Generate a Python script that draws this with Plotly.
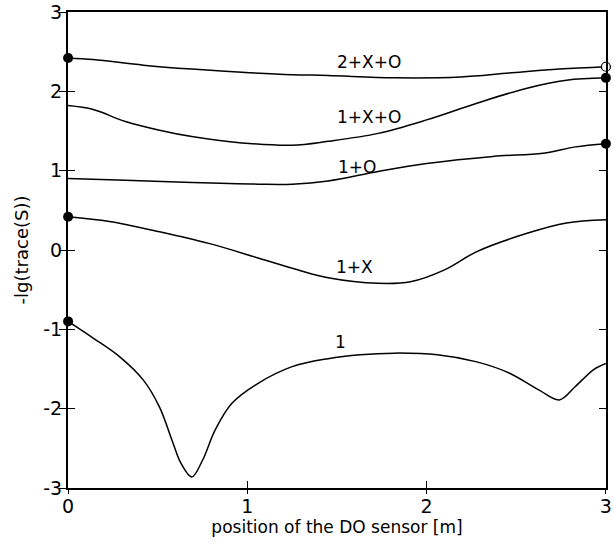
import plotly.graph_objects as go

# ---- data ----
x_c1 = [0.0, 0.14, 0.29, 0.42, 0.51, 0.58, 0.63, 0.69, 0.75, 0.82, 0.915, 1.06, 1.25, 1.45, 1.63, 1.82, 2.06, 2.28, 2.46, 2.63, 2.74, 2.83, 2.93, 3.0]
y_c1 = [-0.90, -1.11, -1.35, -1.64, -1.98, -2.40, -2.69, -2.86, -2.65, -2.27, -1.93, -1.68, -1.47, -1.37, -1.32, -1.30, -1.32, -1.41, -1.55, -1.77, -1.89, -1.72, -1.51, -1.43]

x_c1x = [0.0, 0.23, 0.51, 0.79, 1.06, 1.28, 1.45, 1.73, 1.91, 2.10, 2.28, 2.56, 2.78, 3.0]
y_c1x = [0.42, 0.36, 0.23, 0.08, -0.10, -0.25, -0.35, -0.42, -0.40, -0.25, -0.02, 0.21, 0.34, 0.38]

x_c1o = [0.0, 0.32, 0.69, 1.06, 1.25, 1.45, 1.73, 2.0, 2.37, 2.65, 2.83, 3.0]
y_c1o = [0.90, 0.88, 0.85, 0.83, 0.83, 0.87, 0.99, 1.09, 1.18, 1.22, 1.30, 1.34]

x_c1xo = [0.0, 0.14, 0.32, 0.51, 0.69, 0.97, 1.25, 1.45, 1.73, 2.0, 2.28, 2.56, 2.78, 3.0]
y_c1xo = [1.82, 1.77, 1.62, 1.51, 1.43, 1.35, 1.32, 1.37, 1.47, 1.64, 1.85, 2.04, 2.14, 2.17]

x_c2xo = [0.0, 0.14, 0.42, 0.69, 0.97, 1.25, 1.45, 1.82, 2.19, 2.46, 2.74, 3.0]
y_c2xo = [2.42, 2.40, 2.33, 2.28, 2.24, 2.21, 2.20, 2.17, 2.18, 2.23, 2.28, 2.31]

series = [
    ("1", x_c1, y_c1),
    ("1+X", x_c1x, y_c1x),
    ("1+O", x_c1o, y_c1o),
    ("1+X+O", x_c1xo, y_c1xo),
    ("2+X+O", x_c2xo, y_c2xo),
]

# labels (text, x, y)
label_text = ["2+X+O", "1+X+O", "1+O", "1+X", "1"]
label_x = [1.68, 1.68, 1.61, 1.60, 1.52]
label_y = [2.37, 1.68, 1.05, -0.21, -1.16]

# end point markers
dot_x = [0.0, 0.0, 0.0, 3.0, 3.0]
dot_y = [2.42, 0.42, -0.90, 2.17, 1.34]
open_x = [3.0]
open_y = [2.31]

x_ticks = [0, 1, 2, 3]
y_ticks = [-3, -2, -1, 0, 1, 2, 3]
y_tick_text = ["-3", "-2", "-1", "0", "1", "2", "3"]

FONT = "DejaVu Sans"
XR = [-0.0005, 3.0005]

fig = go.Figure()
for name, xs, ys in series:
    fig.add_trace(go.Scatter(x=xs, y=ys, mode="lines", name=name,
                             line=dict(color="black", width=1.5, shape="spline", smoothing=1.0),
                             hoverinfo="skip"))

fig.add_trace(go.Scatter(x=dot_x, y=dot_y, mode="markers",
                         marker=dict(color="black", size=10), cliponaxis=False))
fig.add_trace(go.Scatter(x=open_x, y=open_y, mode="markers",
                         marker=dict(color="white", size=9, line=dict(color="black", width=1.2)),
                         cliponaxis=False))

# helper invisible trace for overlay axes (crossing ticks)
fig.add_trace(go.Scatter(x=[0], y=[0], xaxis="x2", yaxis="y2", mode="markers",
                         marker=dict(opacity=0), hoverinfo="skip"))

for t, xx, yy in zip(label_text, label_x, label_y):
    fig.add_annotation(x=xx, y=yy, text=t, showarrow=False,
                       font=dict(family=FONT, size=17, color="black"),
                       xanchor="center", yanchor="middle")

fig.update_layout(
    width=614, height=545,
    margin=dict(l=68, r=8, t=12, b=57),
    paper_bgcolor="white", plot_bgcolor="white",
    showlegend=False,
    font=dict(family=FONT, size=17, color="black"),
    xaxis=dict(range=XR, tickvals=x_ticks, ticks="inside", ticklen=7,
               tickcolor="black", tickwidth=1.2, showline=True, linecolor="black",
               linewidth=2, mirror=True, showgrid=False, zeroline=False,
               tickfont=dict(size=19), automargin=False, ticklabeloverflow="allow",
               title=dict(text="position of the DO sensor [m]", standoff=5,
                          font=dict(size=17))),
    yaxis=dict(range=[-3, 3], tickvals=y_ticks, ticktext=y_tick_text,
               ticks="inside", ticklen=7, automargin=False, ticklabeloverflow="allow",
               tickcolor="black", tickwidth=1.2, showline=True, linecolor="black",
               linewidth=2, mirror="ticks", showgrid=False, zeroline=False,
               tickfont=dict(size=19),
               title=dict(text="-lg(trace(S))", standoff=10, font=dict(size=18))),
    xaxis2=dict(range=XR, tickvals=x_ticks, overlaying="x", side="bottom",
                ticks="outside", ticklen=5, tickcolor="black", tickwidth=1.2,
                showticklabels=False, showline=False, showgrid=False, zeroline=False),
    yaxis2=dict(range=[-3, 3], tickvals=y_ticks, overlaying="y", side="left",
                ticks="outside", ticklen=8, tickcolor="black", tickwidth=1.2,
                showticklabels=False, showline=False, showgrid=False, zeroline=False),
)

fig.write_html("out.html")
